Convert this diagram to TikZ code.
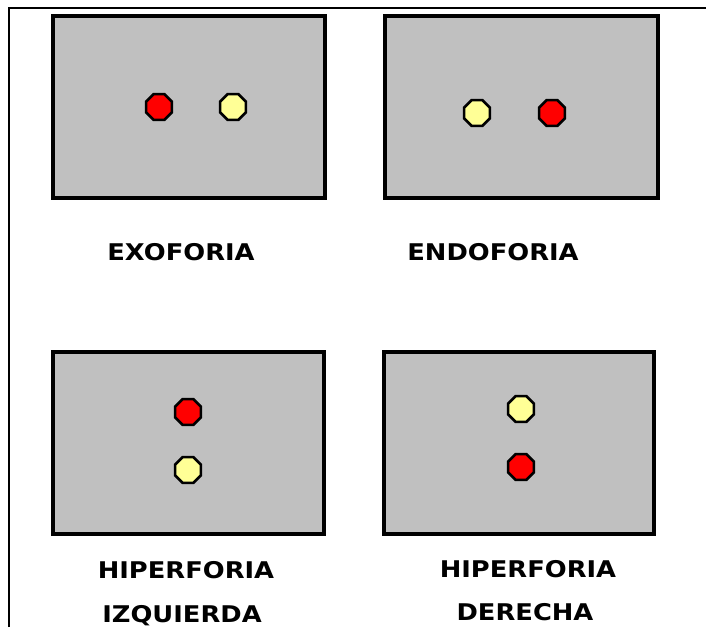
\documentclass[tikz,border=0pt]{standalone}
\usepackage{fontspec}
\usetikzlibrary{shapes.geometric}
\newfontfamily\labfont[FakeStretch=1.12]{DejaVu Sans Bold}
\definecolor{panelgray}{RGB}{192,192,192}
\definecolor{dotred}{RGB}{255,0,0}
\definecolor{dotyellow}{RGB}{255,255,150}
\tikzset{
  panel/.style={draw=black, line width=3.4pt, fill=panelgray, rectangle, inner sep=0pt},
  dot/.style={regular polygon, regular polygon sides=8, minimum size=28pt, inner sep=0pt, draw=black, line width=2.6pt},
  reddot/.style={dot, fill=dotred},
  yellowdot/.style={dot, fill=dotyellow},
  lab/.style={font=\labfont\fontsize{23}{28}\selectfont, inner sep=0pt, anchor=base, text=black}
}
\begin{document}
\begin{tikzpicture}[x=1pt,y=-1pt]
\useasboundingbox (0,0) rectangle (706,627);
\fill[white] (0,0) rectangle (706,627);
\coordinate (fb) at (9,627);
\coordinate (fc) at (9,8);
\coordinate (fr) at (706,8);
\draw[line width=2.6pt] (fb) -- (fc) -- (fr);
% panels
\node[panel, minimum width=272pt, minimum height=182pt] (p1) at (189,107) {};
\node[panel, minimum width=273pt, minimum height=182pt] (p2) at (521.5,107) {};
\node[panel, minimum width=271pt, minimum height=182pt] (p3) at (188.5,443) {};
\node[panel, minimum width=270pt, minimum height=182pt] (p4) at (519,443) {};
% dots
\node[reddot] (r1) at (159,107) {};
\node[yellowdot] (y1) at (233,107) {};
\node[yellowdot] (y2) at (477,113) {};
\node[reddot] (r2) at (552,113) {};
\node[reddot] (r3) at (188,412) {};
\node[yellowdot] (y3) at (188,470) {};
\node[yellowdot] (y4) at (521,409) {};
\node[reddot] (r4) at (521,467) {};
% labels
\node[lab] (t1) at (181,260) {EXOFORIA};
\node[lab] (t2) at (493,260) {ENDOFORIA};
\node[lab] (t3) at (186,578) {HIPERFORIA};
\node[lab] (t4) at (182,622) {IZQUIERDA};
\node[lab] (t5) at (528,577) {HIPERFORIA};
\node[lab] (t6) at (525,620) {DERECHA};
\end{tikzpicture}
\end{document}
